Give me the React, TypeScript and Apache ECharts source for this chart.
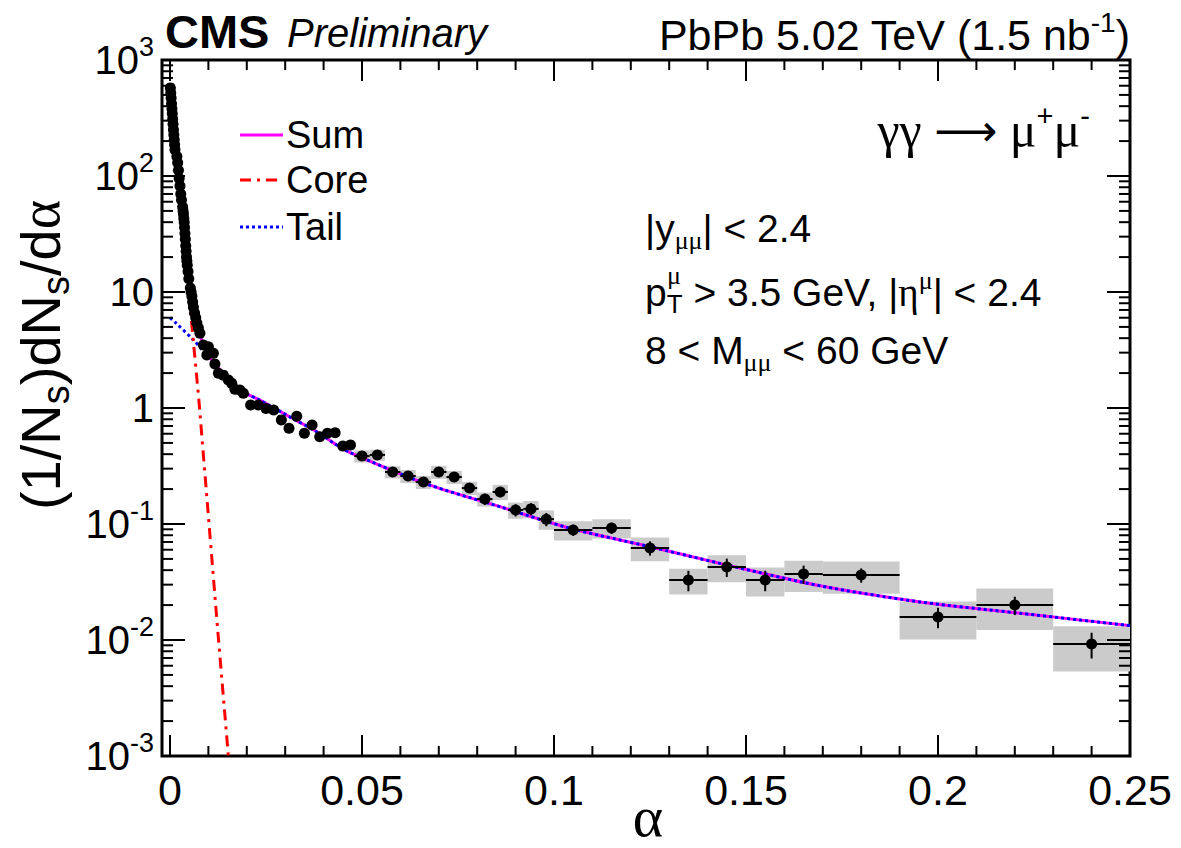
import React, { useEffect, useRef } from "react";
import * as echarts from "echarts";

// ---------------- data ----------------
// fine bins near alpha = 0
const alphaFine = [
  0.0001, 0.0002, 0.0003, 0.0004, 0.0005, 0.0006, 0.0007, 0.0008, 0.0009, 0.001, 0.0011, 0.0012, 0.0013,
  0.0018, 0.002, 0.0022, 0.0024, 0.0026, 0.0028, 0.003,
  0.0033, 0.0034, 0.0035, 0.0036, 0.0037, 0.0038, 0.0039, 0.004, 0.0041, 0.0042, 0.0043, 0.0044, 0.0045, 0.0047, 0.0049,
  0.0053, 0.0055, 0.0057, 0.0059, 0.0061,
  0.0064, 0.0067, 0.007, 0.0074, 0.0078,
];
const yieldFine = [
  575, 520, 470, 420, 380, 345, 310, 280, 250, 227, 205, 186, 168,
  147, 130, 112, 95, 82, 70, 62,
  54, 50, 47, 43, 40, 36, 32, 28.5, 25, 22.5, 20, 18.5, 17, 15, 13,
  10.8, 10, 9.2, 8.2, 7.4,
  6.6, 6.0, 5.4, 4.9, 4.4,
];
const alphaB = [0.0087, 0.0096, 0.01, 0.0113, 0.0117, 0.0126, 0.0139, 0.0152, 0.0161, 0.0169, 0.0182, 0.0191];
const yieldB = [3.49, 2.86, 3.38, 2.97, 2.39, 1.99, 1.92, 1.74, 1.63, 1.45, 1.43, 1.34];
const alphaC = [0.021, 0.023, 0.025, 0.027, 0.029, 0.031, 0.033, 0.035, 0.037, 0.039, 0.041, 0.043, 0.045, 0.047];
const yieldC = [1.06, 1.06, 0.99, 0.96, 0.79, 0.67, 0.85, 0.605, 0.713, 0.566, 0.605, 0.612, 0.47, 0.48];
const sysC = [0.06, 0.06, 0.06, 0.06, 0.06, 0.06, 0.06, 0.06, 0.06, 0.06, 0.06, 0.06, 0.1, 0.1];
const alphaD = [0.05, 0.054, 0.058, 0.062, 0.066, 0.07, 0.074, 0.078, 0.082, 0.086, 0.09, 0.094, 0.098];
const yieldD = [0.385, 0.394, 0.281, 0.259, 0.23, 0.281, 0.254, 0.204, 0.164, 0.189, 0.132, 0.135, 0.11];
const statD = [0.06, 0.06, 0.07, 0.07, 0.08, 0.08, 0.09, 0.09, 0.11, 0.1, 0.12, 0.12, 0.13];
const sysD = [0.12, 0.11, 0.12, 0.13, 0.13, 0.13, 0.13, 0.13, 0.14, 0.15, 0.16, 0.17, 0.19];
const alphaE = [0.105, 0.115, 0.125, 0.135, 0.145, 0.155, 0.165];
const yieldE = [0.0888, 0.0924, 0.0621, 0.0329, 0.0426, 0.0329, 0.0371];
const statE = [0.11, 0.11, 0.14, 0.2, 0.18, 0.2, 0.18];
const sysE = [0.19, 0.19, 0.23, 0.25, 0.26, 0.28, 0.3];
const alphaF = [0.18, 0.2, 0.22, 0.24];
const yieldF = [0.0363, 0.0158, 0.02, 0.00924];
const statF = [0.14, 0.2, 0.18, 0.25];
const sysF = [0.31, 0.36, 0.39, 0.42];

// fit curves
const sumX = [0, 0.0008, 0.0017, 0.003, 0.004, 0.0052, 0.0061, 0.0075, 0.009, 0.0105, 0.013, 0.0191, 0.0234, 0.0326, 0.0382, 0.0434, 0.0469, 0.0664, 0.0859, 0.1042, 0.125, 0.1432, 0.1693, 0.1953, 0.2214, 0.25];
const sumY = [581, 290, 152, 59, 28, 12, 6.8, 4.5, 3.4, 2.7, 2.15, 1.38, 1.17, 0.79, 0.625, 0.48, 0.413, 0.224, 0.141, 0.0918, 0.0637, 0.0458, 0.0293, 0.0213, 0.017, 0.0133];
const coreX = [0, 0.0025, 0.005, 0.0075, 0.01, 0.0125, 0.0152];
const coreY = [575, 72, 9, 1.2, 0.117, 0.0114, 0.001];
const tailX = [0, 0.0013, 0.0061, 0.0083, 0.013, 0.0191, 0.0234, 0.0326, 0.0382, 0.0434, 0.0469, 0.0664, 0.0859, 0.1042, 0.125, 0.1432, 0.1693, 0.1953, 0.2214, 0.25];
const tailY = [6.0, 5.5, 3.86, 3.2, 2.13, 1.38, 1.17, 0.79, 0.625, 0.48, 0.413, 0.224, 0.141, 0.0918, 0.0637, 0.0458, 0.0293, 0.0213, 0.017, 0.0133];

// axis ticks
const xMajorTicks = [0, 0.05, 0.1, 0.15, 0.2, 0.25];
const yMajorTicks = [0.001, 0.01, 0.1, 1, 10, 100, 1000];

// ---------------- helpers ----------------
const SANS = '"Liberation Sans", Arial, Helvetica, sans-serif';
const SERIF = '"Liberation Serif", "DejaVu Serif", serif';

type Pt = [number, number, number, number, number];
function group(xs: number[], ys: number[], hw: number, stat: number | number[], sys: number | number[]): Pt[] {
  return xs.map((x, i) => [
    x,
    ys[i],
    hw,
    Array.isArray(stat) ? stat[i] : stat,
    Array.isArray(sys) ? sys[i] : sys,
  ]);
}
const points: Pt[] = [
  ...group(alphaFine, yieldFine, 0.00005, 0.02, 0.03),
  ...group(alphaB, yieldB, 0.0005, 0.04, 0.05),
  ...group(alphaC, yieldC, 0.001, 0.05, sysC),
  ...group(alphaD, yieldD, 0.002, statD, sysD),
  ...group(alphaE, yieldE, 0.005, statE, sysE),
  ...group(alphaF, yieldF, 0.01, statF, sysF),
];

function txt(x: number, y: number, text: string, rich: any, align = "left", font = `39px ${SANS}`, extra: any = {}) {
  return {
    type: "text",
    x,
    y,
    z: 10,
    ...extra,
    style: {
      text,
      rich,
      fill: "#000",
      font,
      align,
      textAlign: align,
      verticalAlign: "middle",
      textVerticalAlign: "middle",
    },
  };
}

export default function App() {
  const ref = useRef<HTMLDivElement>(null);
  useEffect(() => {
    const chart = echarts.init(ref.current!, null, { renderer: "svg" });

    const xMin = -0.00208;
    const xMax = 0.25;

    const FS = 39;
    const SS = 26;
    const mainRich = {
      m: { fontSize: FS, fontFamily: SANS, color: "#000" },
      g: { fontSize: FS, fontFamily: SERIF, color: "#000" },
      d: { fontSize: SS, fontFamily: SERIF, color: "#000", padding: [24, 0, 0, 0] },
      ds: { fontSize: SS, fontFamily: SANS, color: "#000", padding: [24, 0, 0, 0] },
      u: { fontSize: SS, fontFamily: SERIF, color: "#000", padding: [0, 0, 24, 0] },
      us: { fontSize: SS, fontFamily: SANS, color: "#000", padding: [0, 0, 24, 0] },
    };
    const legRich = {
      m: { fontSize: 38, fontFamily: SANS, color: "#000" },
    };
    const headRich = {
      m: { fontSize: 43, fontFamily: SANS, color: "#000" },
      us: { fontSize: 28, fontFamily: SANS, color: "#000", padding: [0, 0, 26, 0] },
    };

    const option: any = {
      animation: false,
      backgroundColor: "#fff",
      grid: {
        left: 162,
        top: 60,
        width: 968,
        height: 696,
        show: true,
        borderColor: "#000",
        borderWidth: 3,
        backgroundColor: "transparent",
      },
      xAxis: {
        type: "value",
        min: xMin,
        max: xMax,
        axisLine: { show: false },
        axisTick: { show: false },
        splitLine: { show: false },
        axisLabel: {
          customValues: xMajorTicks,
          margin: 12,
          fontSize: 43,
          fontFamily: SANS,
          color: "#000",
          formatter: (v: number) => String(Math.round(v * 100) / 100),
        },
      },
      yAxis: {
        type: "log",
        logBase: 10,
        min: 0.001,
        max: 1000,
        axisLine: { show: false },
        axisTick: { show: false },
        splitLine: { show: false },
        axisLabel: {
          customValues: yMajorTicks,
          margin: 8,
          formatter: (v: number) => {
            const e = Math.round(Math.log10(v));
            if (e === 0) return "{b|1}";
            if (e === 1) return "{b|10}";
            return "{b|10}{e|" + e + "}";
          },
          rich: {
            b: { fontSize: 40, fontFamily: SANS, color: "#000" },
            e: { fontSize: 27, fontFamily: SANS, color: "#000", padding: [0, 0, 26, 0] },
          },
        },
      },
      series: [
        // systematic boxes
        {
          type: "custom",
          z: 1,
          clip: true,
          silent: true,
          data: points,
          encode: { x: 0, y: 1 },
          renderItem: (params: any, api: any) => {
            const x = api.value(0), y = api.value(1), hw = api.value(2), sys = api.value(4);
            const p1 = api.coord([x - hw, y * (1 + sys)]);
            const p2 = api.coord([x + hw, y * (1 - sys)]);
            return {
              type: "rect",
              shape: { x: p1[0], y: p1[1], width: p2[0] - p1[0], height: p2[1] - p1[1] },
              style: { fill: "#cbcbcb" },
            };
          },
        },
        {
          type: "line",
          z: 2,
          data: sumX.map((x, i) => [x, sumY[i]]),
          symbol: "none",
          smooth: 0.3,
          lineStyle: { color: "#ff00ff", width: 3, opacity: 1 },
        },
        {
          type: "line",
          z: 3,
          data: tailX.map((x, i) => [x, tailY[i]]),
          symbol: "none",
          smooth: 0.3,
          lineStyle: { color: "#0000ff", width: 3, type: [3, 3], opacity: 1 },
        },
        {
          type: "line",
          z: 3,
          data: coreX.map((x, i) => [x, coreY[i]]),
          symbol: "none",
          lineStyle: { color: "#ff0000", width: 3, type: [11, 6, 3, 6], opacity: 1 },
        },
        // error bars
        {
          type: "custom",
          z: 4,
          clip: true,
          silent: true,
          data: points,
          encode: { x: 0, y: 1 },
          renderItem: (params: any, api: any) => {
            const x = api.value(0), y = api.value(1), hw = api.value(2), st = api.value(3);
            const l = api.coord([x - hw, y]);
            const r = api.coord([x + hw, y]);
            const t = api.coord([x, y * (1 + st)]);
            const b = api.coord([x, y * (1 - st)]);
            const s = { stroke: "#000", lineWidth: 2 };
            return {
              type: "group",
              children: [
                { type: "line", shape: { x1: l[0], y1: l[1], x2: r[0], y2: r[1] }, style: s },
                { type: "line", shape: { x1: t[0], y1: t[1], x2: b[0], y2: b[1] }, style: s },
              ],
            };
          },
        },
        {
          type: "scatter",
          z: 5,
          data: points.map((p) => [p[0], p[1]]),
          symbol: "circle",
          symbolSize: 11,
          itemStyle: { color: "#000", opacity: 1 },
          silent: true,
        },
        // tick marks on all four sides
        {
          type: "custom",
          z: 6,
          silent: true,
          data: [[0.1, 1]],
          encode: { x: 0, y: 1 },
          renderItem: (params: any, api: any) => {
            const cs = params.coordSys;
            const L = cs.x, R = cs.x + cs.width, T = cs.y, B = cs.y + cs.height;
            const ch: any[] = [];
            const s = { stroke: "#000", lineWidth: 2 };
            const add = (x1: number, y1: number, x2: number, y2: number) =>
              ch.push({ type: "line", shape: { x1, y1, x2, y2 }, style: s });
            for (let i = 0; i <= 25; i++) {
              const v = i * 0.01;
              const len = i % 5 === 0 ? 21 : 10;
              const px = api.coord([v, 1])[0];
              add(px, B, px, B - len);
              add(px, T, px, T + len);
            }
            for (let k = -3; k <= 3; k++) {
              const py = api.coord([0.1, Math.pow(10, k)])[1];
              add(L, py, L + 23, py);
              add(R, py, R - 23, py);
              if (k < 3) {
                for (let m = 2; m <= 9; m++) {
                  const q = api.coord([0.1, m * Math.pow(10, k)])[1];
                  add(L, q, L + 11, q);
                  add(R, q, R - 11, q);
                }
              }
            }
            return { type: "group", children: ch };
          },
        },
      ],
      graphic: {
        elements: [
          // header
          txt(165, 31, "CMS", null, "left", `bold 47px ${SANS}`),
          txt(287, 33, "Preliminary", null, "left", `italic 40px ${SANS}`),
          txt(1130, 35, "{m|PbPb 5.02 TeV (1.5 nb}{us|-1}{m|)}", headRich, "right"),
          // legend
          { type: "line", z: 10, shape: { x1: 240, y1: 135, x2: 283, y2: 135 }, style: { stroke: "#ff00ff", lineWidth: 3 } },
          { type: "line", z: 10, shape: { x1: 240, y1: 180, x2: 283, y2: 180 }, style: { stroke: "#ff0000", lineWidth: 3, lineDash: [11, 6, 3, 6] } },
          { type: "line", z: 10, shape: { x1: 240, y1: 227, x2: 283, y2: 227 }, style: { stroke: "#0000ff", lineWidth: 3, lineDash: [3, 3] } },
          txt(286, 135, "{m|Sum}", legRich),
          txt(286, 180, "{m|Core}", legRich),
          txt(286, 227, "{m|Tail}", legRich),
          // process + selection
          txt(1090, 130, "{G|γγ }{A|⟶}{G| μ}{U|+}{G|μ}{U|-}", {
            G: { fontSize: 50, fontFamily: SERIF, color: "#000" },
            A: { fontSize: 44, fontFamily: '"DejaVu Sans", sans-serif', color: "#000" },
            U: { fontSize: 29, fontFamily: SANS, color: "#000", padding: [0, 0, 28, 0] },
          }, "right"),
          txt(645, 228, "{m||y}{d|μμ}{m|| < 2.4}", mainRich),
          txt(645, 292, "{m|p}{ds|T}{m| > 3.5 GeV, |}{g|η}{u|μ}{m|| < 2.4}", mainRich),
          txt(667, 275, "{u0|μ}", { u0: { fontSize: SS, fontFamily: SERIF, color: "#000" } }),
          txt(645, 350, "{m|8 < M}{d|μμ}{m| < 60 GeV}", mainRich),
          // axis titles
          txt(648, 816, "{a|α}", { a: { fontSize: 58, fontFamily: SERIF, color: "#000", lineHeight: 56 } }, "center"),
          txt(40, 355, "{n|(1/N}{s|s}{n|)dN}{s|s}{n|/d}{a|α}", {
            n: { fontSize: 56, fontFamily: SANS, color: "#000" },
            s: { fontSize: 38, fontFamily: SANS, color: "#000", padding: [32, 0, 0, 0] },
            a: { fontSize: 56, fontFamily: SERIF, color: "#000" },
          }, "center", `56px ${SANS}`, { rotation: Math.PI / 2 }),
        ],
      },
    };

    chart.setOption(option);
    return () => chart.dispose();
  }, []);
  return (
    <div
      ref={ref}
      style={{ position: "absolute", left: 0, top: 0, width: 1181, height: 848, background: "#fff" }}
    />
  );
}
